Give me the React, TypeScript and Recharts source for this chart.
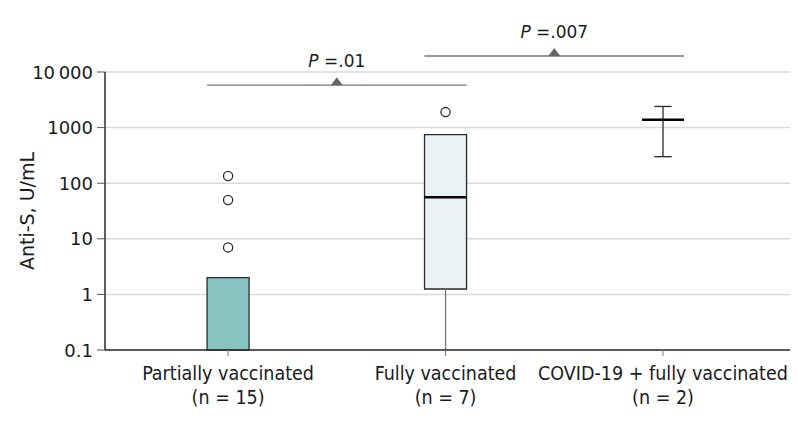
import React from 'react';
import {
  ComposedChart, XAxis, YAxis, CartesianGrid, Scatter, ReferenceArea, ReferenceLine, ReferenceDot,
} from 'recharts';

// groups and their box-plot summaries (U/mL)
const categories = ['Partially vaccinated', 'Fully vaccinated', 'COVID-19 + fully vaccinated'];
const groupSizes = ['(n = 15)', '(n = 7)', '(n = 2)'];
const whiskerLow = [0.1, 0.1, 300];
const boxLow: (number | null)[] = [0.1, 1.25, null];
const medians = [0.1, 56, 1380];
const boxHigh: (number | null)[] = [2, 750, null];
const whiskerHigh = [2, 750, 2400];
const outliers = [[135, 50, 7], [1900], []];
const boxFills = ['#87c3c0', '#e8f2f4', 'none'];

const yTicks = [0.1, 1, 10, 100, 1000, 10000];

// pairwise comparisons shown above the boxes
const comparisons = [
  { from: 0, to: 1, p: '.01', level: 5800 },
  { from: 1, to: 2, p: '.007', level: 19400 },
];

const FONT = 'DejaVu Sans, sans-serif';
const LABEL_FONT = 'DejaVu Sans Condensed, DejaVu Sans, sans-serif';
const HALF_BOX = 0.0966;
const HALF_CAP = 0.04;
const DARK = '#2b2b2b';

const outlierData = outliers.flatMap((vals, i) => vals.map(v => ({ x: i, y: v })));

const fmtY = (v: number) => (v === 10000 ? '10\u2009000' : String(v));

const ValueTick = (props: any) => {
  const { x, y, payload } = props;
  return (
    <text x={x - 2} y={y} dy={6.5} textAnchor="end" fontFamily={FONT} fontSize={18} fill="#1a1a1a">
      {fmtY(payload.value)}
    </text>
  );
};

const CategoryTick = (props: any) => {
  const { x, y, payload } = props;
  const i = payload.value as number;
  return (
    <g transform={`translate(${x},${y})`}>
      <text textAnchor="middle" fontFamily={LABEL_FONT} fontSize={19.5} fill="#1a1a1a">
        <tspan x={0} dy={22}>{categories[i]}</tspan>
        <tspan x={0} dy={24}>{groupSizes[i]}</tspan>
      </text>
    </g>
  );
};

const makeMarker = (p: string) => (props: any) => {
  const { cx, cy } = props;
  return (
    <g>
      <polygon points={`${cx - 6},${cy} ${cx + 6},${cy} ${cx},${cy - 8}`} fill="#666" />
      <text x={cx} y={cy - 18} textAnchor="middle" fontFamily={FONT} fontSize={17} fill="#1a1a1a">
        <tspan fontStyle="italic">P</tspan> =
        {p}
      </text>
    </g>
  );
};

export default function App() {
  return (
    <div style={{ position: 'absolute', left: 0, top: 0, background: '#fff' }}>
      <ComposedChart width={798} height={425} margin={{ top: 72, right: 8, bottom: 0, left: 0 }}>
        <CartesianGrid vertical={false} stroke="#d9d9d9" strokeWidth={1.5} />
        <XAxis
          type="number"
          dataKey="x"
          domain={[-0.566, 2.584]}
          ticks={[0, 1, 2]}
          allowDataOverflow
          height={75}
          tick={<CategoryTick />}
          tickSize={6}
          axisLine={{ stroke: DARK, strokeWidth: 1.5 }}
          tickLine={{ stroke: '#777' }}
        />
        <YAxis
          type="number"
          scale="log"
          domain={[0.1, 10000]}
          ticks={yTicks}
          allowDataOverflow
          width={105}
          tick={<ValueTick />}
          tickSize={8}
          axisLine={{ stroke: DARK, strokeWidth: 1.5 }}
          tickLine={{ stroke: '#555' }}
          label={{
            value: 'Anti-S, U/mL', angle: -90, position: 'insideLeft', offset: 27,
            style: { textAnchor: 'middle', fontFamily: FONT, fontSize: 19, fill: '#1a1a1a' },
          }}
        />

        {/* whiskers */}
        {categories.map((_, i) => {
          const lo = boxLow[i] ?? medians[i];
          const hi = boxHigh[i] ?? medians[i];
          const segs = [];
          if (whiskerLow[i] < lo) segs.push([whiskerLow[i], lo]);
          if (whiskerHigh[i] > hi) segs.push([hi, whiskerHigh[i]]);
          if (boxLow[i] === null) segs.splice(0, segs.length, [whiskerLow[i], whiskerHigh[i]]);
          return segs.map((s, k) => (
            <ReferenceLine
              key={`w-${i}-${k}`}
              segment={[{ x: i, y: s[0] }, { x: i, y: s[1] }]}
              stroke={boxLow[i] === null ? DARK : '#777'}
              strokeWidth={1.3}
            />
          ));
        })}
        {/* caps for groups drawn without a box */}
        {categories.map((_, i) =>
          boxLow[i] === null
            ? [whiskerLow[i], whiskerHigh[i]].map((v, k) => (
                <ReferenceLine
                  key={`c-${i}-${k}`}
                  segment={[{ x: i - HALF_CAP, y: v }, { x: i + HALF_CAP, y: v }]}
                  stroke={DARK}
                  strokeWidth={1.3}
                />
              ))
            : null
        )}

        {/* boxes */}
        {categories.map((_, i) =>
          boxLow[i] !== null && boxHigh[i] !== null ? (
            <ReferenceArea
              key={`b-${i}`}
              x1={i - HALF_BOX}
              x2={i + HALF_BOX}
              y1={boxLow[i] as number}
              y2={boxHigh[i] as number}
              fill={boxFills[i]}
              fillOpacity={1}
              stroke={DARK}
              strokeWidth={1.3}
            />
          ) : null
        )}

        {/* medians */}
        {categories.map((_, i) =>
          medians[i] > 0.1 ? (
            <ReferenceLine
              key={`m-${i}`}
              segment={[{ x: i - HALF_BOX, y: medians[i] }, { x: i + HALF_BOX, y: medians[i] }]}
              stroke="#000"
              strokeWidth={2.6}
            />
          ) : null
        )}

        <Scatter
          data={outlierData}
          dataKey="y"
          isAnimationActive={false}
          shape={(p: any) => <circle cx={p.cx} cy={p.cy} r={4.6} fill="#fff" stroke={DARK} strokeWidth={1.3} />}
        />

        {/* comparison brackets */}
        {comparisons.map((c, k) => (
          <ReferenceLine
            key={`s-${k}`}
            segment={[{ x: c.from - HALF_BOX, y: c.level }, { x: c.to + HALF_BOX, y: c.level }]}
            stroke="#777"
            strokeWidth={1.3}
            ifOverflow="visible"
          />
        ))}
        {comparisons.map((c, k) => (
          <ReferenceDot
            key={`d-${k}`}
            x={(c.from + c.to) / 2}
            y={c.level}
            ifOverflow="visible"
            shape={makeMarker(c.p)}
          />
        ))}
      </ComposedChart>
    </div>
  );
}
